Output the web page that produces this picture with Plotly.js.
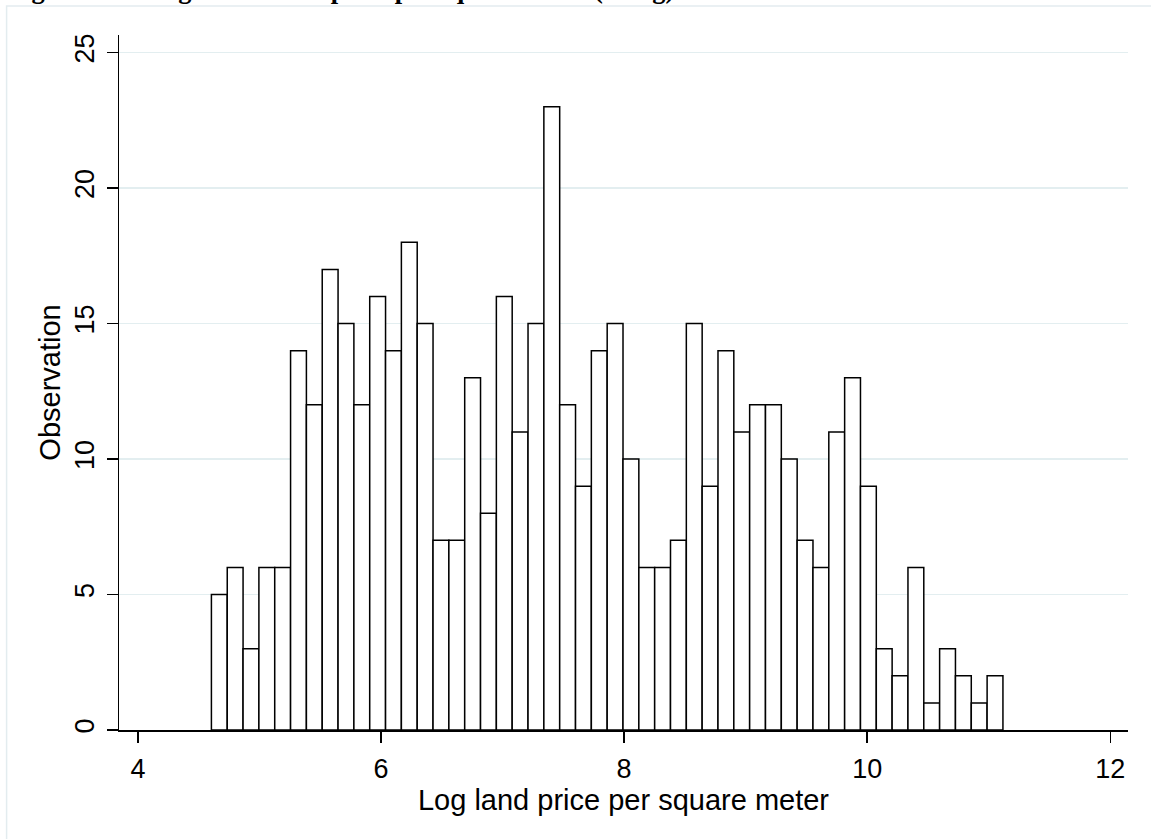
<!DOCTYPE html>
<html>
<head>
<meta charset="utf-8">
<script src="https://cdn.plot.ly/plotly-3.0.1.min.js"></script>
<style>
  html, body { margin: 0; padding: 0; background: #ffffff; }
  #chart { width: 1151px; height: 839px; }
</style>
</head>
<body>
<div id="chart"></div>
<script>
// ---- data ----
const chartTitle = "Figure 3: Histogram of land price per square meter (in log)";
const xAxisTitle = "Log land price per square meter";
const yAxisTitle = "Observation";
const binStart = 4.604;
const binWidth = 0.13026;
const counts = [5, 6, 3, 6, 6, 14, 12, 17, 15, 12,
                16, 14, 18, 15, 7, 7, 13, 8, 16, 11,
                15, 23, 12, 9, 14, 15, 10, 6, 6, 7,
                15, 9, 14, 11, 12, 12, 10, 7, 6, 11,
                13, 9, 3, 2, 6, 1, 3, 2, 1, 2];
const xTickVals = [4, 6, 8, 10, 12];
const yTickVals = [0, 5, 10, 15, 20, 25];

const binCenters = counts.map((_, i) => binStart + (i + 0.5) * binWidth);

const font = "Liberation Sans, Arial, Helvetica, sans-serif";
const gridColor = "#e3eef0";

const trace = {
  type: "bar",
  x: binCenters,
  y: counts,
  width: binWidth,
  marker: { color: "#ffffff", line: { color: "#000000", width: 1.5 } },
  hoverinfo: "x+y"
};

const layout = {
  width: 1151,
  height: 839,
  paper_bgcolor: "#ffffff",
  plot_bgcolor: "#ffffff",
  margin: { l: 119, r: 23, t: 35, b: 109 },
  bargap: 0,
  showlegend: false,
  font: { family: font, color: "#000000" },
  xaxis: {
    range: [3.8436, 12.146],
    tickvals: xTickVals,
    ticktext: xTickVals.map(String),
    ticks: "outside",
    ticklen: 11,
    tickwidth: 1.5,
    tickcolor: "#000000",
    ticklabelstandoff: 3,
    showline: true,
    linecolor: "#000000",
    linewidth: 1.5,
    showgrid: false,
    zeroline: false,
    tickfont: { size: 27, family: font, color: "#000000" },
    title: { text: xAxisTitle, font: { size: 29, family: font, color: "#000000" }, standoff: 0 }
  },
  yaxis: {
    range: [0, 25.65],
    tickvals: yTickVals,
    ticktext: yTickVals.map(String),
    tickangle: -90,
    ticks: "outside",
    ticklen: 11,
    tickwidth: 1.5,
    tickcolor: "#000000",
    ticklabelstandoff: 2,
    showline: true,
    linecolor: "#000000",
    linewidth: 1.5,
    showgrid: true,
    gridcolor: gridColor,
    gridwidth: 1.5,
    zeroline: false,
    tickfont: { size: 27, family: font, color: "#000000" },
    title: { text: yAxisTitle, font: { size: 29, family: font, color: "#000000" }, standoff: 0 }
  },
  shapes: [
    {
      type: "rect", xref: "paper", yref: "paper",
      x0: -0.1114, x1: 1.1, y0: -0.3, y1: 1.0417,
      line: { color: "#e3ecef", width: 1.5 }, fillcolor: "rgba(0,0,0,0)", layer: "below"
    }
  ],
  annotations: [
    {
      text: "<b>" + chartTitle + "</b>",
      xref: "paper", yref: "paper",
      x: -0.111, y: 1.0437,
      xanchor: "left", yanchor: "bottom",
      showarrow: false,
      borderpad: 0,
      font: { family: "Liberation Serif, Times New Roman, serif", size: 26.5, color: "#000000" }
    }
  ]
};

Plotly.newPlot("chart", [trace], layout, { displayModeBar: false, staticPlot: true });
</script>
</body>
</html>
